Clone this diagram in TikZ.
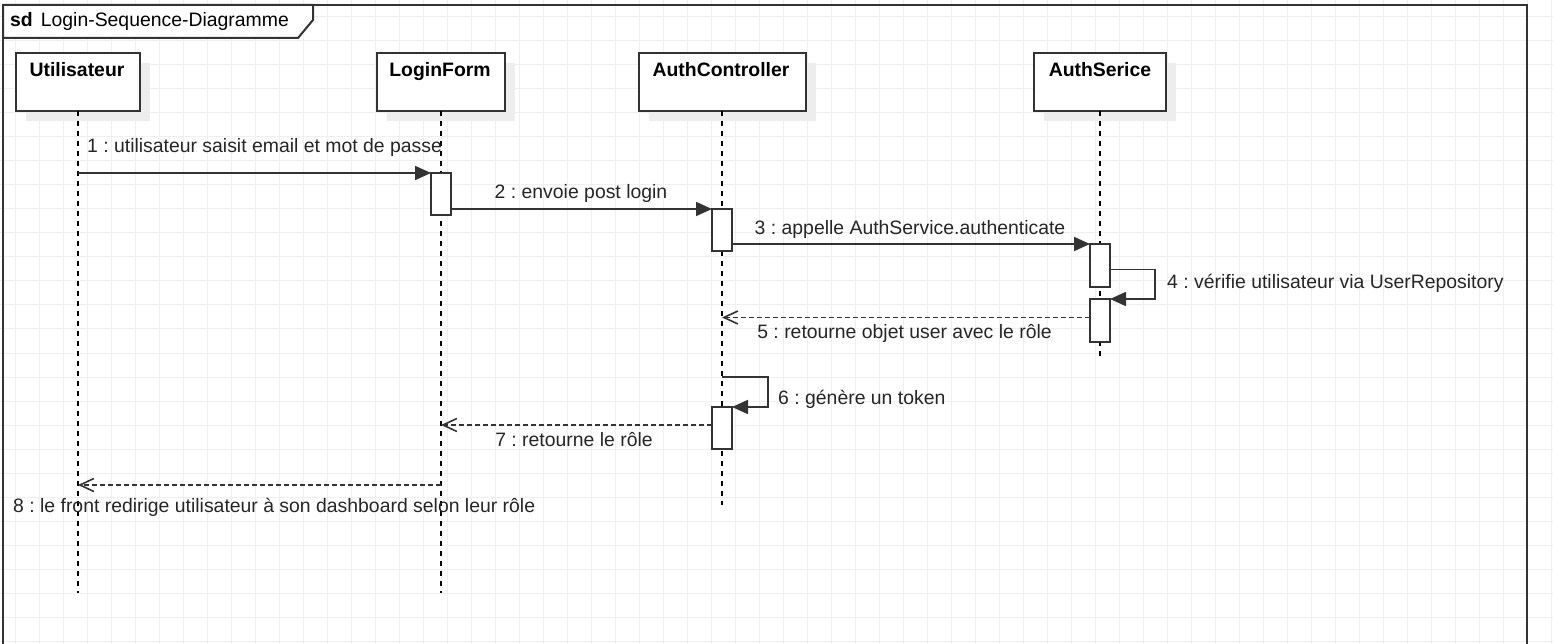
\documentclass[tikz,border=0pt]{standalone}
\usepackage{fontspec}
\setmainfont{Liberation Sans}
\usetikzlibrary{arrows.meta,shadows}
\definecolor{gridgray}{HTML}{EFEFEF}
\definecolor{umlline}{HTML}{333333}
\definecolor{shadowgray}{HTML}{EDEDED}
\newcommand{\umlfont}{\fontsize{19.4}{23}\selectfont}
\frenchspacing
\tikzset{
  gridline/.style={gridgray,line width=1pt},
  lifehead/.style={draw=umlline,fill=white,line width=2pt,minimum height=58pt,inner sep=0pt,outer sep=0pt,
    general shadow={fill=shadowgray,shadow xshift=10pt,shadow yshift=-10pt}},
  headtext/.style={anchor=base,font=\umlfont\bfseries,text=black,inner sep=0pt},
  lifeline/.style={black,line width=1.6pt,dash pattern=on 5pt off 5pt},
  act/.style={draw=umlline,fill=white,line width=2pt,minimum width=20pt,inner sep=0pt,outer sep=0pt},
  msg/.style={umlline,line width=1.7pt,-{Triangle[length=16pt,width=14pt]}},
  ret/.style={umlline,line width=1.7pt,dash pattern=on 5pt off 3pt,-{Straight Barb[length=14pt,width=13pt,line width=1.6pt]}},
  msgtext/.style={anchor=base,text=black!85,inner sep=0pt}
}
\begin{document}
\begin{tikzpicture}[x=1pt,y=-1pt,font=\umlfont]
 \useasboundingbox (0,0) rectangle (1553,644);
 \clip (0,0) rectangle (1553,644);
 \fill[white] (0,0) rectangle (1553,644);
 \foreach \gx in {15,39,...,1551} \draw[gridline] (\gx,0) -- (\gx,644);
 \foreach \gy in {17,41,...,641} \draw[gridline] (0,\gy) -- (1553,\gy);
 % frame
 \draw[umlline,line width=2.2pt] (3,5) rectangle (1527,680);
 \draw[umlline,line width=2pt,fill=white] (3,5) -- (313,5) -- (313,20) -- (298,38) -- (3,38) -- cycle;
 \node[anchor=base west,text=black,inner sep=0pt] (title) at (10,27) {\textbf{sd}\hspace{8pt}Login-Sequence-Diagramme};
 % lifelines
 \node[lifehead,minimum width=124pt] (user) at (78,82) {};
 \node[lifehead,minimum width=128pt] (login) at (441,82) {};
 \node[lifehead,minimum width=167pt] (ctrl) at (722,82) {};
 \node[lifehead,minimum width=132pt] (svc) at (1100,82) {};
 \node[headtext] (usertxt) at (77,77) {Utilisateur};
 \node[headtext] (logintxt) at (440,77) {LoginForm};
 \node[headtext] (ctrltxt) at (721,77) {AuthController};
 \node[headtext] (svctxt) at (1100,77) {AuthSerice};
 \draw[lifeline] (user.south) -- ++(0,482);
 \draw[lifeline] (login.south) -- ++(0,482);
 \draw[lifeline] (ctrl.south) -- ++(0,394);
 \draw[lifeline] (svc.south) -- ++(0,249);
 % activations
 \node[act,minimum height=42pt] (a1) at (441,194) {};
 \node[act,minimum height=42pt] (a2) at (722,230) {};
 \node[act,minimum height=43pt] (a3) at (1100,265.5) {};
 \node[act,minimum height=43pt] (a4) at (1100,320.5) {};
 \node[act,minimum height=42pt] (a5) at (722,428) {};
 \coordinate (back5) at ([yshift=3pt]a4.west);
 \coordinate (back7) at ([yshift=3pt]a5.west);
 \coordinate (redir) at (441,485);
 % messages
 \draw[msg] (user |- a1.north west) -- (a1.north west);
 \draw[msg] (a1.east |- a2.north west) -- (a2.north west);
 \draw[msg] (a2.east |- a3.north west) -- (a3.north west);
 \draw[msg] ([yshift=-4pt]a3.east) -- ++(45,0) |- (a4.north east);
 \draw[ret] (back5) -- (ctrl |- back5);
 \draw[msg] ([yshift=30pt]a5.north) -- ++(46,0) |- (a5.north east);
 \draw[ret] (back7) -- (login |- back7);
 \draw[ret] (redir) -- (user |- redir);
 % labels
 \node[msgtext] (l1) at (264.5,153) {1 : utilisateur saisit email et mot de passe};
 \node[msgtext] (l2) at (581,199) {2 : envoie post login};
 \node[msgtext] (l3) at (910,235) {3 : appelle AuthService.authenticate};
 \node[msgtext,anchor=base west] (l4) at (1167,289) {4 : vérifie utilisateur via UserRepository};
 \node[msgtext] (l5) at (904.5,338.5) {5 : retourne objet user avec le rôle};
 \node[msgtext,anchor=base west] (l6) at (778,404) {6 : génère un token};
 \node[msgtext] (l7) at (574,446) {7 : retourne le rôle};
 \node[msgtext,anchor=base west] (l8) at (13,512) {8 : le front redirige utilisateur à son dashboard selon leur rôle};
\end{tikzpicture}
\end{document}
